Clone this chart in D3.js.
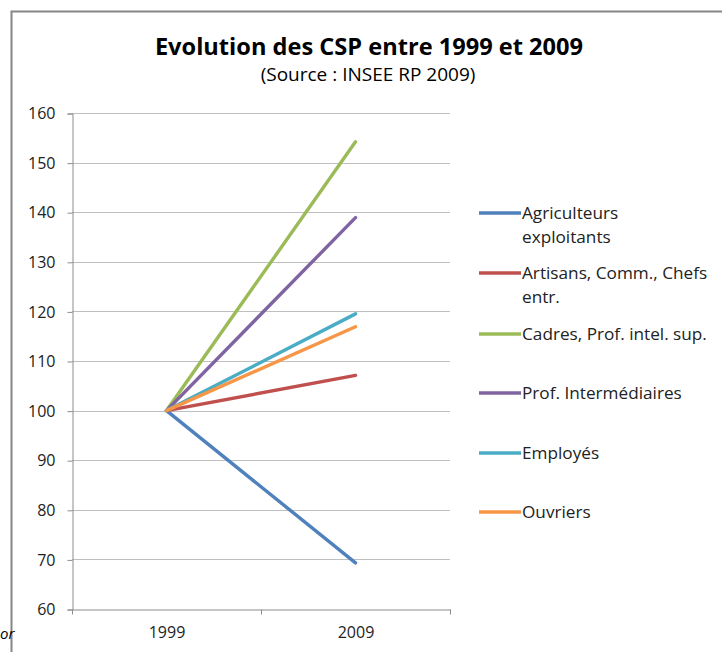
<!DOCTYPE html>
<html><head><meta charset="utf-8">
<script src="https://cdn.jsdelivr.net/npm/d3@7"></script>
<style>body{margin:0;background:#fff}svg{display:block}</style>
</head><body>
<script>
const years = ["1999", "2009"];
const seriesNames = ["Agriculteurs exploitants", "Artisans, Comm., Chefs entr.", "Cadres, Prof. intel. sup.", "Prof. Intermédiaires", "Employés", "Ouvriers"];
const legendLines = [["Agriculteurs", "exploitants"], ["Artisans, Comm., Chefs", "entr."], ["Cadres, Prof. intel. sup."], ["Prof. Intermédiaires"], ["Employés"], ["Ouvriers"]];
const values1999 = [100, 100, 100, 100, 100, 100];
const values2009 = [69.3, 107.1, 154.2, 138.9, 119.5, 116.9];
const colors = ["#4F81BD", "#C0504D", "#9BBB59", "#8064A2", "#4BACC6", "#F79646"];
const yTicks = [60, 70, 80, 90, 100, 110, 120, 130, 140, 150, 160];

const W = 722, H = 652;
const font = "'Open Sans', sans-serif";
const svg = d3.select("body").append("svg").attr("width", W).attr("height", H);

// outer frame
svg.append("path").attr("d", `M11.5,${H} V11.5 H${W}`).attr("fill", "none").attr("stroke", "#868686").attr("stroke-width", 2);

const x = d3.scaleBand().domain(years).range([72, 450]);
const y = d3.scaleLinear().domain([60, 160]).range([609, 113]);

// gridlines
svg.append("g").selectAll("line").data(yTicks.slice(1)).join("line")
  .attr("x1", 72).attr("x2", 450).attr("y1", d => Math.round(y(d)) + 0.5).attr("y2", d => Math.round(y(d)) + 0.5)
  .attr("stroke", "#bfbfbf").attr("stroke-width", 1);

// y axis
const yAxis = svg.append("g").attr("transform", "translate(72.5,0.5)")
  .call(d3.axisLeft(y).tickValues(yTicks).tickSize(5).tickPadding(12));
yAxis.select(".domain").attr("stroke", "#8c8c8c");
yAxis.selectAll(".tick line").attr("stroke", "#8c8c8c");
yAxis.selectAll(".tick text").attr("font-family", font).attr("font-size", 16).attr("fill", "#222");

// x axis
const xAxis = svg.append("g").attr("transform", `translate(0.5,${Math.round(y(60)) + 0.5})`)
  .call(d3.axisBottom(x).tickSize(0).tickPadding(17));
xAxis.select(".domain").attr("stroke", "#8c8c8c");
xAxis.selectAll(".tick text").attr("font-family", font).attr("font-size", 16).attr("fill", "#222");
xAxis.selectAll(".cat-tick").data([72, 261, 450]).join("line").attr("class", "cat-tick")
  .attr("x1", d => d).attr("x2", d => d).attr("y1", 0).attr("y2", 5).attr("stroke", "#8c8c8c");

// lines
const line = d3.line().x(d => x(d.year) + x.bandwidth() / 2).y(d => y(d.v));
seriesNames.forEach((name, i) => {
  const data = [{year: years[0], v: values1999[i]}, {year: years[1], v: values2009[i]}];
  svg.append("path").datum(data).attr("d", line).attr("fill", "none")
    .attr("stroke", colors[i]).attr("stroke-width", 3.4).attr("stroke-linecap", "round");
});

// legend
const legendY = [213, 273, 334, 393, 453, 512];
seriesNames.forEach((name, i) => {
  const g = svg.append("g").attr("transform", `translate(0,${legendY[i]})`);
  g.append("line").attr("x1", 479).attr("x2", 521).attr("y1", 0).attr("y2", 0)
    .attr("stroke", colors[i]).attr("stroke-width", 3.4);
  legendLines[i].forEach((t, j) => {
    g.append("text").attr("x", 522).attr("y", 6 + j * 24).text(t)
      .attr("font-family", font).attr("font-size", 17.2).attr("fill", "#222");
  });
});

// titles
svg.append("text").attr("x", 369).attr("y", 55).attr("text-anchor", "middle")
  .attr("font-family", font).attr("font-weight", "bold").attr("font-size", 23.6).attr("fill", "#000")
  .text("Evolution des CSP entre 1999 et 2009");
svg.append("text").attr("x", 368).attr("y", 81).attr("text-anchor", "middle")
  .attr("font-family", font).attr("font-size", 19).attr("fill", "#000")
  .text("(Source : INSEE RP 2009)");

// fragment at bottom left
svg.append("text").attr("x", 0).attr("y", 639)
  .attr("font-family", font).attr("font-style", "italic").attr("font-size", 15).attr("fill", "#000").text("or");
</script>
</body></html>
